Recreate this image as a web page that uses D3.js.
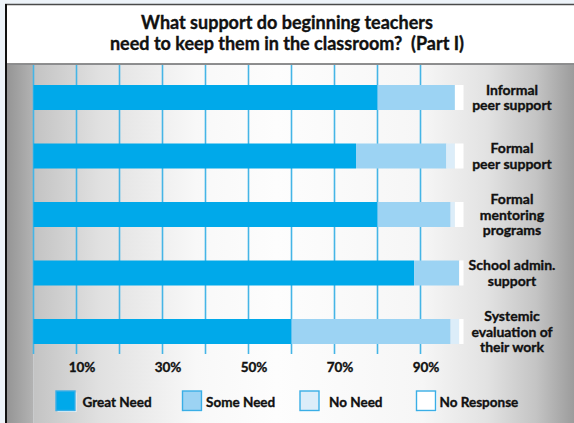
<!DOCTYPE html>
<html>
<head>
<meta charset="utf-8">
<script src="https://cdn.jsdelivr.net/npm/d3@7"></script>
<style>
  html, body { margin: 0; padding: 0; background: #edf3f9; }
  svg { display: block; }
  text { font-family: Lato, "Open Sans", sans-serif; font-weight: 700; fill: #111;
         stroke: #111; stroke-width: 0.35px; white-space: pre; }
</style>
</head>
<body>
<svg id="chart" width="574" height="423"></svg>
<script>
// Survey categories (each entry is the wrapped label lines)
const categories = [
  ["Informal", "peer support"],
  ["Formal", "peer support"],
  ["Formal", "mentoring", "programs"],
  ["School admin.", "support"],
  ["Systemic", "evaluation of", "their work"]
];

// Share of responses, in percent
const greatNeed  = [80, 75, 80, 88.5, 60];
const someNeed   = [18, 21, 17, 10.5, 37];
const noNeed     = [0, 2, 1, 0, 2];
const noResponse = [2, 2, 2, 1, 1];

const seriesNames = ["Great Need", "Some Need", "No Need", "No Response"];
const seriesColors = ["#00a9ea", "#9cd3f3", "#dcedf9", "#ffffff"];

const gridValues = [0, 10, 20, 30, 40, 50, 60, 70, 80, 90];
const tickValues = [10, 30, 50, 70, 90];
const tickLabels = ["10%", "30%", "50%", "70%", "90%"];

const titleLines = [
  "What support do beginning teachers",
  "need to keep them in the classroom?  (Part I)"
];

const svg = d3.select("#chart");
const W = 574, H = 423;

// ---- background panels ----
const defs = svg.append("defs");
const panelGrad = defs.append("linearGradient").attr("id", "panelGrad")
  .attr("x1", 0).attr("x2", 1).attr("y1", 0).attr("y2", 0);
[[0, "#c3c3c3"], [0.12, "#e0e0e0"], [0.3, "#f8f8f8"], [0.45, "#fdfdfd"],
 [0.72, "#f6f6f6"], [0.84, "#e2e2e2"], [0.93, "#c4c4c4"], [1, "#9c9c9c"]]
  .forEach(([o, c]) => panelGrad.append("stop").attr("offset", o).attr("stop-color", c));
const marginGrad = defs.append("linearGradient").attr("id", "marginGrad")
  .attr("x1", 0).attr("x2", 1).attr("y1", 0).attr("y2", 0);
[[0, "#959595"], [1, "#b3b3b3"]]
  .forEach(([o, c]) => marginGrad.append("stop").attr("offset", o).attr("stop-color", c));

const x = d3.scaleLinear().domain([0, 100]).range([33.5, 463.5]);
const y = d3.scaleBand().domain(d3.range(categories.length))
  .range([85, 344]).paddingInner(0.5726).paddingOuter(0).align(0);

svg.append("rect").attr("x", 7).attr("y", 65).attr("width", x(0) - 7).attr("height", H - 65)
  .attr("fill", "url(#marginGrad)");
svg.append("rect").attr("x", x(0)).attr("y", 65).attr("width", W - x(0)).attr("height", H - 65)
  .attr("fill", "url(#panelGrad)");

// title box
svg.append("rect").attr("x", 6).attr("y", 4.5).attr("width", W).attr("height", 59.5)
  .attr("fill", "#ffffff");
svg.append("line").attr("x1", 5).attr("x2", W).attr("y1", 4.5).attr("y2", 4.5)
  .attr("stroke", "#4a4a4a").attr("stroke-width", 1.5);
svg.append("line").attr("x1", 5).attr("x2", W).attr("y1", 64).attr("y2", 64)
  .attr("stroke", "#6a6a6a").attr("stroke-width", 1.5);
svg.append("line").attr("x1", 6).attr("x2", 6).attr("y1", 4).attr("y2", H)
  .attr("stroke", "#111").attr("stroke-width", 2);

svg.append("g").selectAll("text").data(titleLines).join("text")
  .attr("x", 287).attr("y", (d, i) => 28.5 + i * 21.5)
  .attr("text-anchor", "middle").attr("font-size", 18)
  .text(d => d);

// ---- gridlines ----
svg.append("g").selectAll("line").data(gridValues).join("line")
  .attr("x1", d => x(d)).attr("x2", d => x(d))
  .attr("y1", 65).attr("y2", 354)
  .attr("stroke", "#45b5e6").attr("stroke-width", 1.6);

// ---- stacked bars ----
const rows = categories.map((c, i) => ({
  index: i,
  "Great Need": greatNeed[i],
  "Some Need": someNeed[i],
  "No Need": noNeed[i],
  "No Response": noResponse[i]
}));
const stacked = d3.stack().keys(seriesNames)(rows);

svg.append("g").selectAll("g").data(stacked).join("g")
  .attr("fill", (d, i) => seriesColors[i])
  .selectAll("rect").data(d => d).join("rect")
  .attr("x", d => x(d[0]))
  .attr("width", d => x(d[1]) - x(d[0]))
  .attr("y", d => y(d.data.index))
  .attr("height", y.bandwidth());

// ---- category labels ----
const labelG = svg.append("g");
categories.forEach((lines, i) => {
  const cy = y(i) + y.bandwidth() / 2;
  const first = cy + 5 - 7.6 * (lines.length - 1);
  labelG.append("text")
    .attr("text-anchor", "middle").attr("font-size", 14)
    .selectAll("tspan").data(lines).join("tspan")
    .attr("x", 512).attr("y", (d, k) => first + k * 15.5)
    .text(d => d);
});

// ---- x axis labels ----
const axis = d3.axisBottom(x).tickValues(tickValues)
  .tickFormat((d, i) => tickLabels[i]).tickSize(0).tickPadding(0);
const axisG = svg.append("g").attr("transform", "translate(5,361)").call(axis);
axisG.select(".domain").remove();
axisG.selectAll("text")
  .attr("font-family", "Lato, 'Open Sans', sans-serif")
  .attr("font-weight", 700).attr("font-size", 13.5)
  .attr("fill", "#111").attr("dy", "0.83em");

// ---- legend ----
const legendX = [56, 182.5, 300, 416.5];
const legendTextGap = [26.5, 23.5, 29, 23];
const legend = svg.append("g");
seriesNames.forEach((name, i) => {
  const g = legend.append("g").attr("transform", `translate(${legendX[i]},391)`);
  g.append("rect").attr("x", 1.5).attr("y", 1.5).attr("width", 19).attr("height", 19.5)
    .attr("fill", "#ffffff").attr("opacity", 0.8);
  g.append("rect").attr("width", 19).attr("height", 19.5)
    .attr("fill", seriesColors[i]).attr("stroke", "#3aaee6").attr("stroke-width", 1.4);
  g.append("text").attr("x", legendTextGap[i]).attr("y", 16)
    .attr("font-size", 13.5).text(name);
});
</script>
</body>
</html>
